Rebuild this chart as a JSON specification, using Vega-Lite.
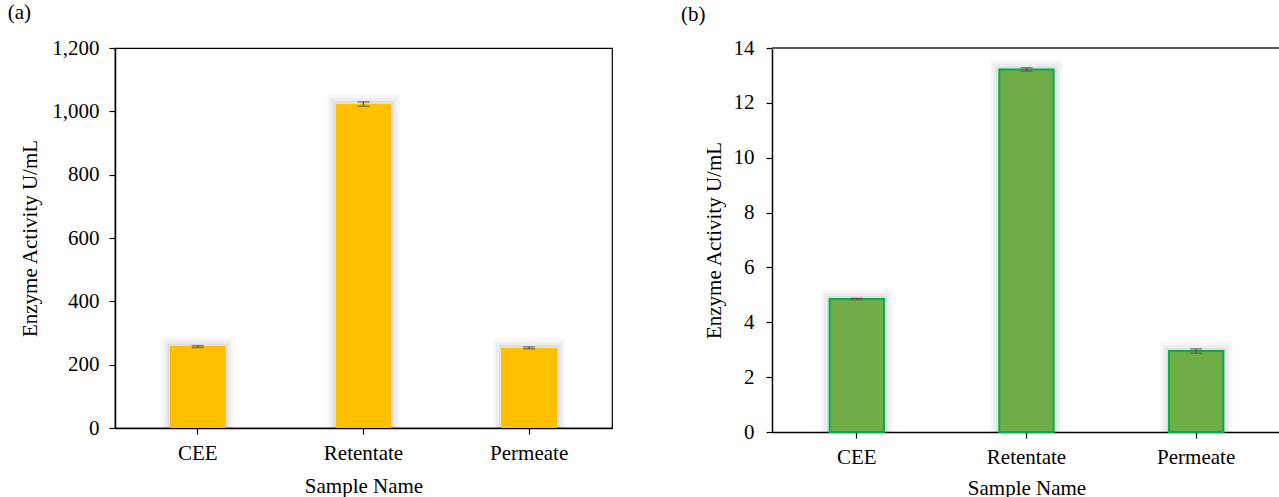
{
  "$schema": "https://vega.github.io/schema/vega-lite/v6.json",
  "background": "white",
  "padding": {"left": 7, "top": 1, "right": 0, "bottom": 0},
  "config": {
    "font": "Liberation Serif, DejaVu Serif, serif",
    "view": {"stroke": null},
    "axis": {
      "labelFont": "Liberation Serif, DejaVu Serif, serif", "titleFont": "Liberation Serif, DejaVu Serif, serif",
      "labelFontSize": 21, "titleFontSize": 21,
      "labelColor": "black", "titleColor": "black", "titleFontWeight": "normal",
      "domainColor": "black", "tickColor": "black", "grid": false,
      "domainWidth": 1.5, "tickWidth": 1.2, "tickSize": 6
    },
    "title": {"font": "Liberation Serif, DejaVu Serif, serif", "fontSize": 21, "fontWeight": "normal", "anchor": "start", "frame": "bounds", "color": "black"},
    "concat": {"spacing": 68}
  },
  "hconcat": [
    {
      "title": {"text": "(a)", "dx": -12, "offset": 14},
      "width": 497,
      "height": 380,
      "view": {"stroke": "black", "strokeWidth": 1.2},
      "data": {"values": [
        {"sample": "CEE", "activity": 257, "sd": 3},
        {"sample": "Retentate", "activity": 1023, "sd": 7},
        {"sample": "Permeate", "activity": 253, "sd": 3}
      ]},
      "encoding": {
        "x": {"field": "sample", "type": "nominal", "sort": ["CEE", "Retentate", "Permeate"],
              "scale": {"paddingInner": 0, "paddingOuter": 0},
              "axis": {"title": "Sample Name", "labelAngle": 0, "labelPadding": 8, "titlePadding": 12}},
        "y": {"field": "activity", "type": "quantitative", "scale": {"domain": [0, 1200]},
              "axis": {"title": "Enzyme Activity U/mL", "values": [0, 200, 400, 600, 800, 1000, 1200], "format": ",.0f", "labelPadding": 10, "titlePadding": 11}}
      },
      "layer": [
        {"mark": {"type": "bar", "width": {"band": 0.33}, "fill": "#FFC000", "stroke": "#000000", "strokeOpacity": 0.03, "strokeWidth": 18, "clip": true}},
        {"mark": {"type": "bar", "width": {"band": 0.33}, "fill": "#FFC000", "stroke": "#000000", "strokeOpacity": 0.04, "strokeWidth": 12, "clip": true}},
        {"mark": {"type": "bar", "width": {"band": 0.33}, "fill": "#FFC000", "stroke": "#000000", "strokeOpacity": 0.06, "strokeWidth": 6, "clip": true}},
        {"mark": {"type": "bar", "width": {"band": 0.33}, "color": "#FFC000"}},
        {"mark": {"type": "errorbar", "color": "#595959", "thickness": 1.5, "ticks": {"size": 12, "color": "#595959", "thickness": 1.5}},
         "encoding": {"yError": {"field": "sd"}}}
      ]
    },
    {
      "title": {"text": "(b)", "dx": -22, "offset": 12},
      "width": 509,
      "height": 384,
      "data": {"values": [
        {"sample": "CEE", "activity": 4.85, "sd": 0.02},
        {"sample": "Retentate", "activity": 13.22, "sd": 0.06},
        {"sample": "Permeate", "activity": 2.95, "sd": 0.08}
      ]},
      "layer": [
        {
          "encoding": {
            "x": {"field": "sample", "type": "nominal", "sort": ["CEE", "Retentate", "Permeate"],
                  "scale": {"paddingInner": 0, "paddingOuter": 0},
                  "axis": {"title": "Sample Name", "labelAngle": 0, "labelPadding": 8, "titlePadding": 10}},
            "y": {"field": "activity", "type": "quantitative", "scale": {"domain": [0, 14]},
                  "axis": {"title": "Enzyme Activity U/mL", "values": [0, 2, 4, 6, 8, 10, 12, 14], "labelPadding": 12, "titlePadding": 9}}
          },
          "layer": [
            {"mark": {"type": "bar", "width": {"band": 0.32}, "fill": "#70AD47", "stroke": "#000000", "strokeOpacity": 0.03, "strokeWidth": 18, "clip": true}},
            {"mark": {"type": "bar", "width": {"band": 0.32}, "fill": "#70AD47", "stroke": "#000000", "strokeOpacity": 0.04, "strokeWidth": 12, "clip": true}},
            {"mark": {"type": "bar", "width": {"band": 0.32}, "fill": "#70AD47", "stroke": "#000000", "strokeOpacity": 0.06, "strokeWidth": 6, "clip": true}},
            {"mark": {"type": "bar", "width": {"band": 0.32}, "fill": "#70AD47", "stroke": "#00B050", "strokeWidth": 2}},
            {"mark": {"type": "errorbar", "color": "#595959", "thickness": 1.5, "ticks": {"size": 12, "color": "#595959", "thickness": 1.5}},
             "encoding": {"yError": {"field": "sd"}}}
          ]
        },
        {
          "mark": {"type": "rule", "color": "#595959", "strokeWidth": 1.5},
          "encoding": {"y": {"datum": 14}}
        }
      ]
    }
  ]
}
